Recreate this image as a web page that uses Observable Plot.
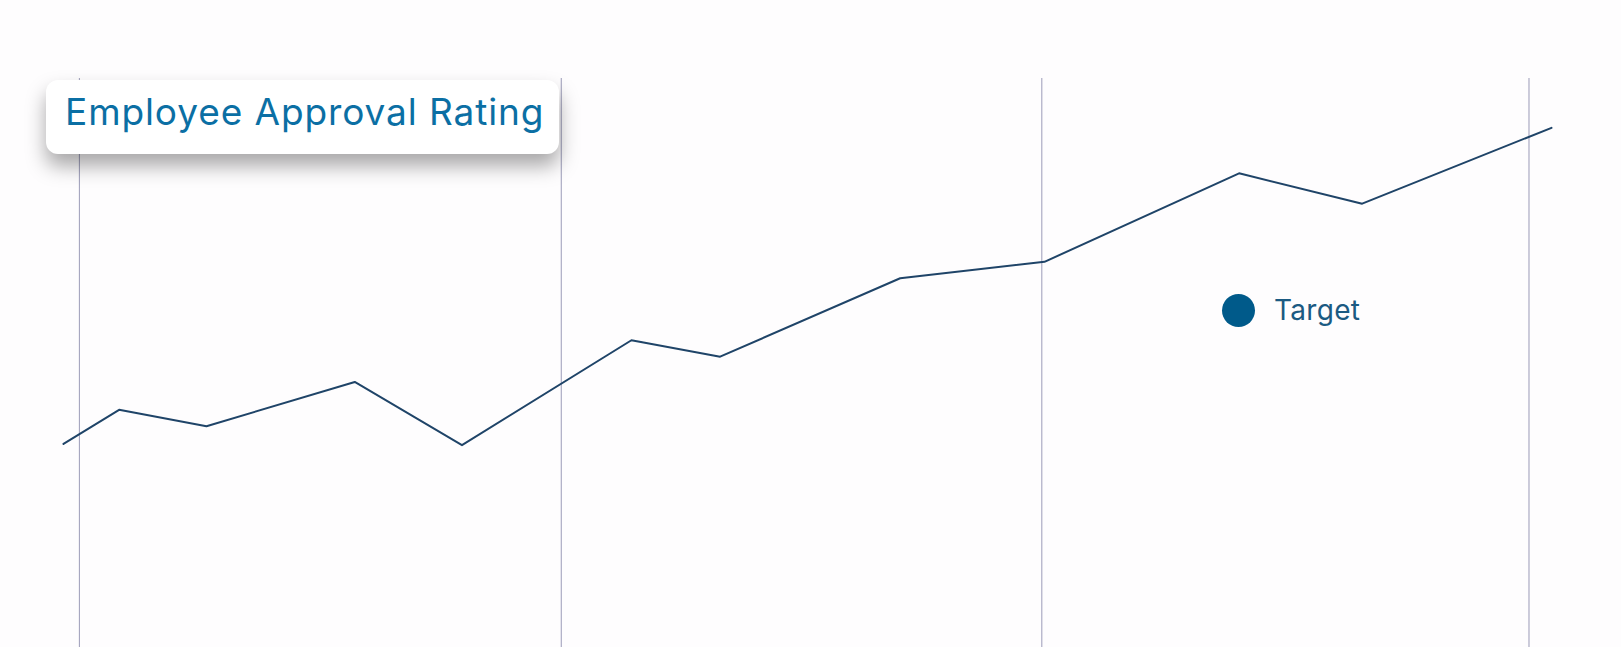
<!DOCTYPE html>
<html>
<head>
<meta charset="utf-8">
<script src="https://cdn.jsdelivr.net/npm/d3@7"></script>
<script src="https://cdn.jsdelivr.net/npm/@observablehq/plot@0.6"></script>
<style>
  html, body { margin: 0; padding: 0; background: #fefdfe; }
  #wrap { position: relative; width: 1621px; height: 647px; overflow: hidden; font-family: Inter, "Noto Sans", sans-serif; }
  #chart svg { display: block; }
  #title {
    position: absolute; left: 46px; top: 80px; width: 513px; height: 74px;
    background: #ffffff; border-radius: 12px;
    box-shadow: 0 12px 20px rgba(0,0,0,0.34);
    box-sizing: border-box; padding-left: 19px;
    color: #0b6fa4; font-size: 37px; letter-spacing: 0.9px; line-height: 64px; white-space: nowrap;
  }
  #legend { position: absolute; left: 1222px; top: 293px; display: flex; align-items: center; color: #1b5a82; font-size: 28px; letter-spacing: 0.3px; }
  #legend .sw { width: 33px; height: 33px; border-radius: 50%; background: #005a8a; margin-right: 19px; }
</style>
</head>
<body>
<div id="wrap">
  <div id="chart"></div>
  <div id="title"></div>
  <div id="legend"><span class="sw"></span><span id="legtext"></span></div>
</div>
<script>
const titleText = "Employee Approval Rating";
const seriesName = "Target";
const dates = ["2020-12-20","2021-01-31","2021-04-07","2021-07-28","2021-10-17","2022-02-22","2022-04-30","2022-09-13","2022-12-31","2023-05-27","2023-08-28","2024-01-18"];
const ratings = [61.1, 63.8, 62.5, 66.0, 61.0, 69.3, 68.0, 74.2, 75.5, 82.5, 80.1, 86.1];
const gridTicks = ["2021-01-01","2021-12-31","2022-12-29","2024-01-01"];

const data = dates.map((d, i) => ({date: new Date(d), value: ratings[i]}));

document.getElementById("title").textContent = titleText;
document.getElementById("legtext").textContent = seriesName;

const chart = Plot.plot({
  width: 1621,
  height: 647,
  marginTop: 78,
  marginBottom: 0,
  marginLeft: 63,
  marginRight: 70,
  style: {background: "transparent"},
  x: {type: "utc", axis: null},
  y: {domain: [45, 90], axis: null},
  marks: [
    Plot.ruleX(gridTicks.map(d => new Date(d)), {stroke: "#9b9bb8", strokeWidth: 1}),
    Plot.line(data, {x: "date", y: "value", stroke: "#1f4468", strokeWidth: 2})
  ]
});
document.getElementById("chart").appendChild(chart);
</script>
</body>
</html>
